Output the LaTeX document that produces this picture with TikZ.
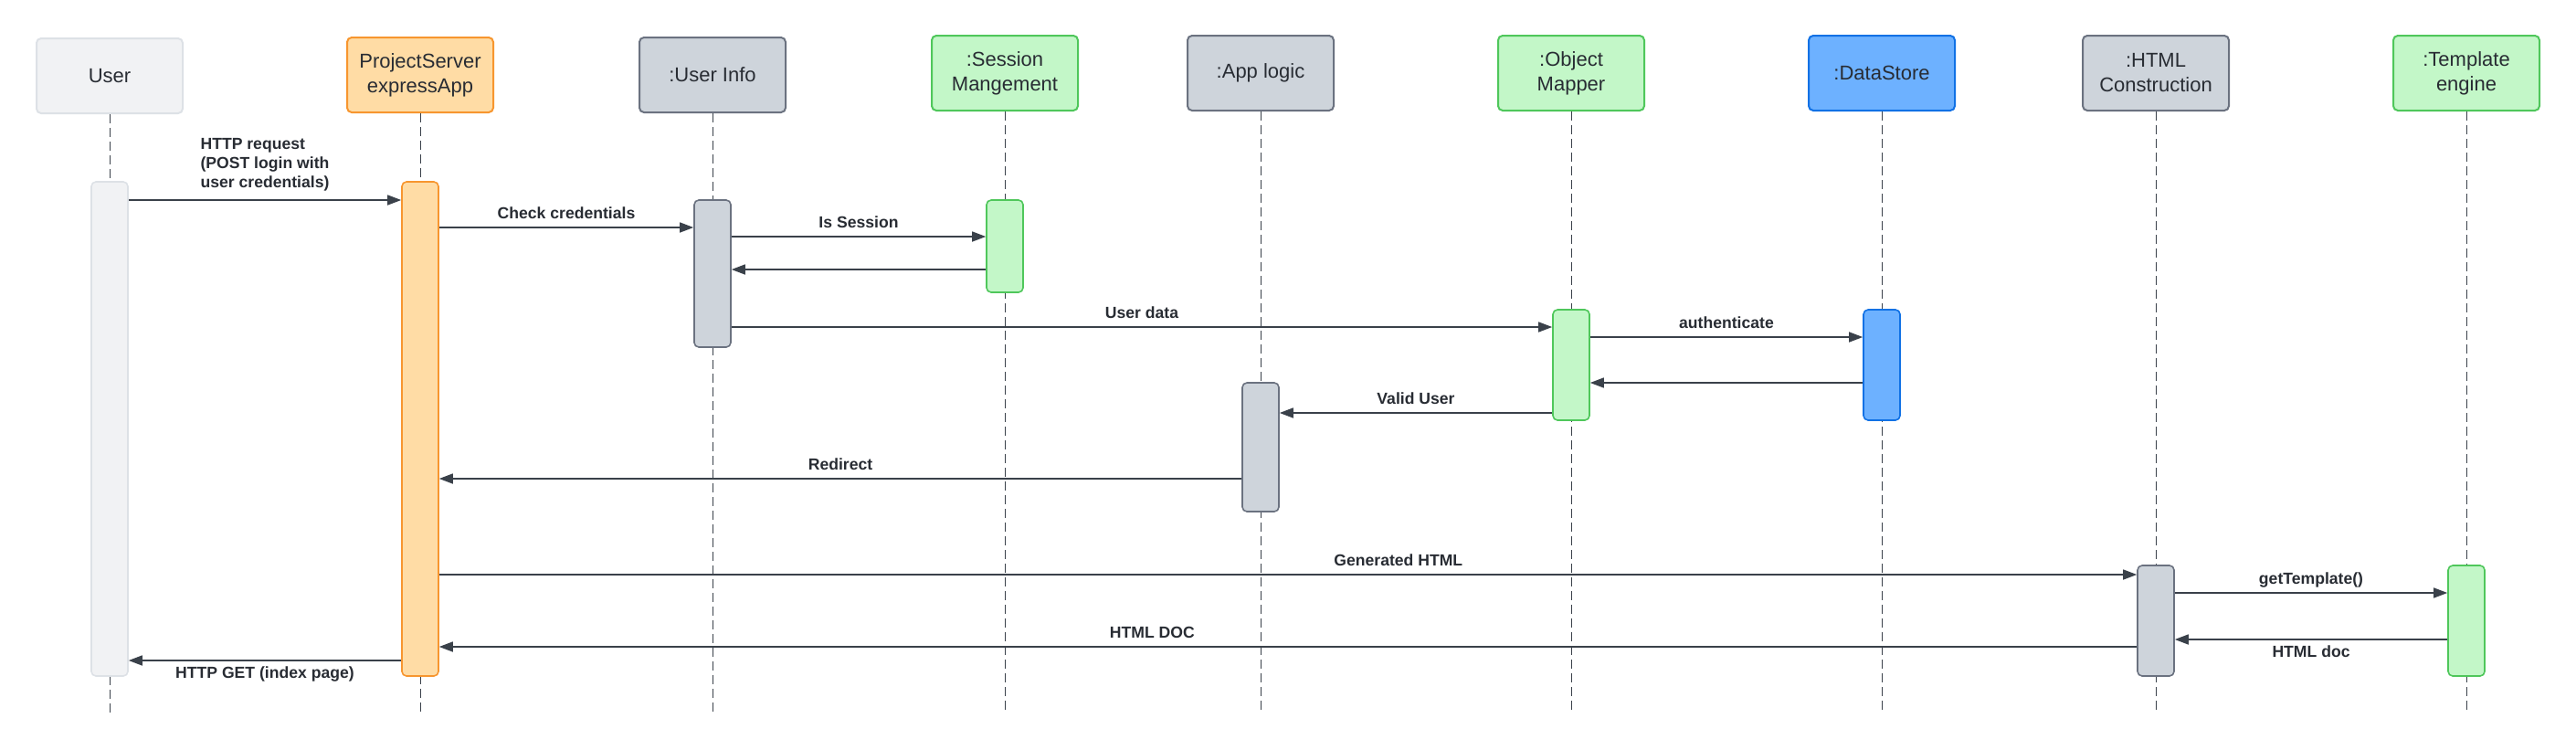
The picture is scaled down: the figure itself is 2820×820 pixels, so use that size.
\documentclass[tikz,border=0pt]{standalone}
\usepackage{fontspec}
\setmainfont{Liberation Sans}
\usetikzlibrary{arrows.meta}

\definecolor{ink}{HTML}{282C33}
\definecolor{wire}{HTML}{3A414A}
\definecolor{mistFill}{HTML}{F1F2F4}
\definecolor{mistLine}{HTML}{DDE1E6}
\definecolor{amberFill}{HTML}{FFDCA5}
\definecolor{amberLine}{HTML}{F7962F}
\definecolor{slateFill}{HTML}{CED4DB}
\definecolor{slateLine}{HTML}{6B7280}
\definecolor{mintFill}{HTML}{C3F7C8}
\definecolor{mintLine}{HTML}{4FC75B}
\definecolor{skyFill}{HTML}{6DB1FF}
\definecolor{skyLine}{HTML}{1071E5}

\begin{document}
\begin{tikzpicture}[
  x=0.5pt,
  y=-0.5pt,
  font=\fontsize{11}{13.5}\selectfont,
  >={Triangle[length=7.5pt,width=5.5pt]},
  head/.style={line width=1pt, rounded corners=2.5pt, minimum width=80pt,
    minimum height=41pt, align=center, text=ink, inner sep=2pt},
  bar/.style={line width=0.8pt, rounded corners=2.5pt, minimum width=20pt,
    inner sep=0pt},
  mist/.style={fill=mistFill, draw=mistLine},
  amber/.style={fill=amberFill, draw=amberLine},
  slate/.style={fill=slateFill, draw=slateLine},
  mint/.style={fill=mintFill, draw=mintLine},
  sky/.style={fill=skyFill, draw=skyLine},
  life/.style={draw=wire, line width=0.5pt, dash pattern=on 5pt off 2.5pt},
  msg/.style={->, draw=wire, line width=0.75pt},
  lbl/.style={font=\bfseries\fontsize{8.8}{10.5}\selectfont, text=ink,
    inner sep=0pt, anchor=base, yshift=5pt},
  lblbelow/.style={lbl, yshift=-14.5pt}
]

\useasboundingbox (0,0) rectangle (2820,820);

\node[head, mist] (user) at (120,83) {User};
\node[head, amber] (server) at (460,82) {ProjectServer\\expressApp};
\node[head, slate] (info) at (780,82) {:User Info};
\node[head, mint] (session) at (1100,80) {:Session\\Mangement};
\node[head, slate] (logic) at (1380,80) {:App logic};
\node[head, mint] (mapper) at (1720,80) {:Object\\Mapper};
\node[head, sky] (store) at (2060,80) {:DataStore};
\node[head, slate] (html) at (2360,80) {:HTML\\Construction};
\node[head, mint] (engine) at (2700,80) {:Template\\engine};

\coordinate (bottom) at (0,780);
\foreach \n in {user,server,info,session,logic,mapper,store,html,engine}
  \draw[life] (\n.south) -- (\n.south |- bottom);

\node[bar, mist, minimum height=270.5pt] (userbar) at (120,469.5) {};
\node[bar, amber, minimum height=270.5pt] (serverbar) at (460,469.5) {};
\node[bar, slate, minimum height=80.5pt] (infobar) at (780,299.5) {};
\node[bar, mint, minimum height=50.5pt] (sessionbar) at (1100,269.5) {};
\node[bar, mint, minimum height=60.5pt] (mapperbar) at (1720,399.5) {};
\node[bar, sky, minimum height=60.5pt] (storebar) at (2060,399.5) {};
\node[bar, slate, minimum height=70.5pt] (logicbar) at (1380,489.5) {};
\node[bar, slate, minimum height=60.5pt] (htmlbar) at (2360,679.5) {};
\node[bar, mint, minimum height=60.5pt] (enginebar) at (2700,679.5) {};

\coordinate (t1) at (0,219);
\coordinate (t2) at (0,249);
\coordinate (t3) at (0,259);
\coordinate (t4) at (0,295);
\coordinate (t5) at (0,358);
\coordinate (t6) at (0,369);
\coordinate (t7) at (0,419);
\coordinate (t8) at (0,452);
\coordinate (t9) at (0,524);
\coordinate (t10) at (0,629);
\coordinate (t11) at (0,649);
\coordinate (t12) at (0,700);
\coordinate (t13) at (0,708);
\coordinate (t14) at (0,723);

\draw[msg] (userbar.east |- t1) -- (serverbar.west |- t1)
  node[midway, lbl, anchor=south, align=left, yshift=-0.5pt]
  {HTTP request\\(POST login with\\user credentials)};
\draw[msg] (serverbar.east |- t2) -- (infobar.west |- t2)
  node[midway, lbl] {Check credentials};
\draw[msg] (infobar.east |- t3) -- (sessionbar.west |- t3)
  node[midway, lbl] {Is Session};
\draw[msg] (sessionbar.west |- t4) -- (infobar.east |- t4);
\draw[msg] (infobar.east |- t5) -- (mapperbar.west |- t5)
  node[midway, lbl] {User data};
\draw[msg] (mapperbar.east |- t6) -- (storebar.west |- t6)
  node[midway, lbl] {authenticate};
\draw[msg] (storebar.west |- t7) -- (mapperbar.east |- t7);
\draw[msg] (mapperbar.west |- t8) -- (logicbar.east |- t8)
  node[midway, lbl] {Valid User};
\draw[msg] (logicbar.west |- t9) -- (serverbar.east |- t9)
  node[midway, lbl] {Redirect};
\draw[msg] (serverbar.east |- t10) -- (htmlbar.west |- t10)
  node[pos=0.565, lbl] {Generated HTML};
\draw[msg] (htmlbar.east |- t11) -- (enginebar.west |- t11)
  node[midway, lbl] {getTemplate()};
\draw[msg] (enginebar.west |- t12) -- (htmlbar.east |- t12)
  node[midway, lblbelow] {HTML doc};
\draw[msg] (htmlbar.west |- t13) -- (serverbar.east |- t13)
  node[pos=0.58, lbl] {HTML DOC};
\draw[msg] (serverbar.west |- t14) -- (userbar.east |- t14)
  node[midway, lblbelow] {HTTP GET (index page)};

\end{tikzpicture}
\end{document}
